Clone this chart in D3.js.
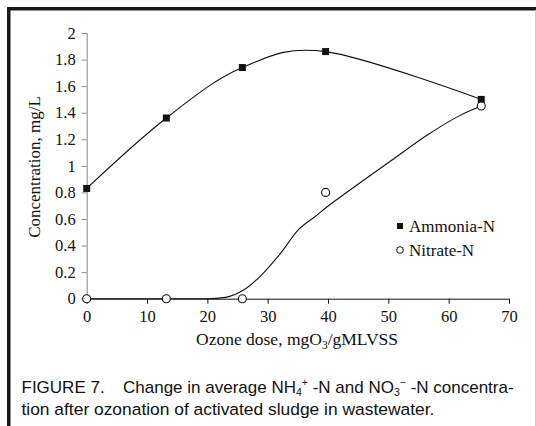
<!DOCTYPE html>
<html>
<head>
<meta charset="utf-8">
<script src="https://cdn.jsdelivr.net/npm/d3@7"></script>
<style>
  body { margin: 0; background: #fff; }
  svg { display: block; }
</style>
</head>
<body>
<div id="chart"></div>
<script>
// data
var doses = [0, 13.2, 25.8, 39.6, 65.4];
var ammonia = [0.83, 1.36, 1.74, 1.86, 1.50];
var nitrate = [0, 0, 0, 0.80, 1.45];
// nitrate trend line as drawn (does not pass through the points)
var nitrateCurveX = [0, 20, 23, 26, 29, 32.1, 35.1, 37.9, 39.8, 43.7, 50.8, 56.4, 61.9, 65.4];
var nitrateCurveY = [0, 0, 0.01, 0.065, 0.18, 0.34, 0.52, 0.62, 0.69, 0.82, 1.05, 1.23, 1.38, 1.45];
var xTicks = [0, 10, 20, 30, 40, 50, 60, 70];
var yTicks = [0, 0.2, 0.4, 0.6, 0.8, 1, 1.2, 1.4, 1.6, 1.8, 2];
var legendNames = ["Ammonia-N", "Nitrate-N"];

var W = 536, H = 426;
var svg = d3.select("#chart").append("svg")
    .attr("width", W)
    .attr("height", H);

// frame
svg.append("rect").attr("x", 0).attr("y", 0).attr("width", W).attr("height", H).attr("fill", "#fff");
svg.append("rect").attr("x", 7).attr("y", 7).attr("width", W - 7).attr("height", 3.5).attr("fill", "#1a1a1a");
svg.append("rect").attr("x", 7).attr("y", 7).attr("width", 3.5).attr("height", H - 7).attr("fill", "#1a1a1a");
svg.append("line").attr("x1", 535.5).attr("x2", 535.5).attr("y1", 10).attr("y2", H)
    .attr("stroke", "#ccc").attr("stroke-width", 1);

var x = d3.scaleLinear().domain([0, 70]).range([86.7, 509]);
var y = d3.scaleLinear().domain([0, 2]).range([298.7, 33]);

var serif = "'Liberation Serif', 'Times New Roman', serif";

// y axis
var yAxis = svg.append("g")
    .attr("transform", "translate(" + x(0) + ",0)")
    .call(d3.axisLeft(y).tickValues(yTicks).tickFormat(d3.format("~g")).tickSize(5).tickPadding(6));
yAxis.select(".domain").attr("stroke", "#888");
yAxis.selectAll(".tick line").attr("stroke", "#888");
yAxis.selectAll("text").attr("font-family", serif).attr("font-size", 16.5).attr("fill", "#111");

// x axis
var xAxis = svg.append("g")
    .attr("transform", "translate(0," + y(0) + ")")
    .call(d3.axisBottom(x).tickValues(xTicks).tickSize(5).tickPadding(7).tickSizeOuter(0));
xAxis.select(".domain").attr("stroke", "#111");
xAxis.selectAll(".tick line").attr("stroke", "#111");
xAxis.selectAll("text").attr("font-family", serif).attr("font-size", 16.5).attr("fill", "#111");

// axis titles
svg.append("text")
    .attr("transform", "translate(40,167) rotate(-90)")
    .attr("text-anchor", "middle")
    .attr("font-family", serif).attr("font-size", 17).attr("fill", "#111")
    .text("Concentration, mg/L");

var xt = svg.append("text")
    .attr("x", 297).attr("y", 345)
    .attr("text-anchor", "middle")
    .attr("font-family", serif).attr("font-size", 17.5).attr("fill", "#111");
xt.append("tspan").text("Ozone dose, mgO");
xt.append("tspan").attr("font-size", 11.5).attr("dy", 4).text("3");
xt.append("tspan").attr("dy", -4).text("/gMLVSS");

// lines
var ammLine = d3.line()
    .x(function(d, i) { return x(doses[i]); })
    .y(function(d) { return y(d); })
    .curve(d3.curveCardinal.tension(0));

svg.append("path")
    .datum(ammonia)
    .attr("d", ammLine)
    .attr("fill", "none").attr("stroke", "#111").attr("stroke-width", 1.1);

var nitLine = d3.line()
    .x(function(d, i) { return x(nitrateCurveX[i]); })
    .y(function(d) { return y(d); })
    .curve(d3.curveMonotoneX);

svg.append("path")
    .datum(nitrateCurveY)
    .attr("d", nitLine)
    .attr("fill", "none").attr("stroke", "#111").attr("stroke-width", 1.1);

// markers
svg.selectAll(".amm")
    .data(ammonia)
    .enter().append("rect")
    .attr("class", "amm")
    .attr("x", function(d, i) { return x(doses[i]) - 3.5; })
    .attr("y", function(d) { return y(d) - 3.5; })
    .attr("width", 7).attr("height", 7)
    .attr("fill", "#111");

svg.selectAll(".nit")
    .data(nitrate)
    .enter().append("circle")
    .attr("class", "nit")
    .attr("cx", function(d, i) { return x(doses[i]); })
    .attr("cy", function(d) { return y(d); })
    .attr("r", 4)
    .attr("fill", "#fff").attr("stroke", "#111").attr("stroke-width", 1.1);

// legend
var lg = svg.append("g").attr("transform", "translate(400,226)");
lg.append("rect").attr("x", -3).attr("y", -3).attr("width", 6).attr("height", 6).attr("fill", "#111");
lg.append("circle").attr("cx", 0).attr("cy", 24).attr("r", 3.3)
    .attr("fill", "#fff").attr("stroke", "#111").attr("stroke-width", 1);
lg.selectAll(".lt")
    .data(legendNames)
    .enter().append("text")
    .attr("class", "lt")
    .attr("x", 9)
    .attr("y", function(d, i) { return 6 + i * 24; })
    .attr("font-family", serif).attr("font-size", 17).attr("fill", "#111")
    .text(function(d) { return d; });

// caption
var sans = "'Liberation Sans', Arial, sans-serif";
var c1 = svg.append("text")
    .attr("x", 21.5).attr("y", 393)
    .attr("font-family", sans).attr("font-size", 17).attr("fill", "#111");
c1.append("tspan").text("FIGURE 7.");
c1.append("tspan").attr("x", 123).text("Change in average NH");
c1.append("tspan").attr("font-size", 10.5).attr("dy", 3).text("4");
c1.append("tspan").attr("font-size", 10.5).attr("dy", -10).text("+");
c1.append("tspan").attr("dy", 7).text(" -N and NO");
c1.append("tspan").attr("font-size", 10.5).attr("dy", 3).text("3");
c1.append("tspan").attr("font-size", 10.5).attr("dy", -10).text("\u2212");
c1.append("tspan").attr("dy", 7).text(" -N concentra-");

svg.append("text")
    .attr("x", 21.5).attr("y", 414.5)
    .attr("font-family", sans).attr("font-size", 17.4).attr("fill", "#111")
    .text("tion after ozonation of activated sludge in wastewater.");
</script>
</body>
</html>
